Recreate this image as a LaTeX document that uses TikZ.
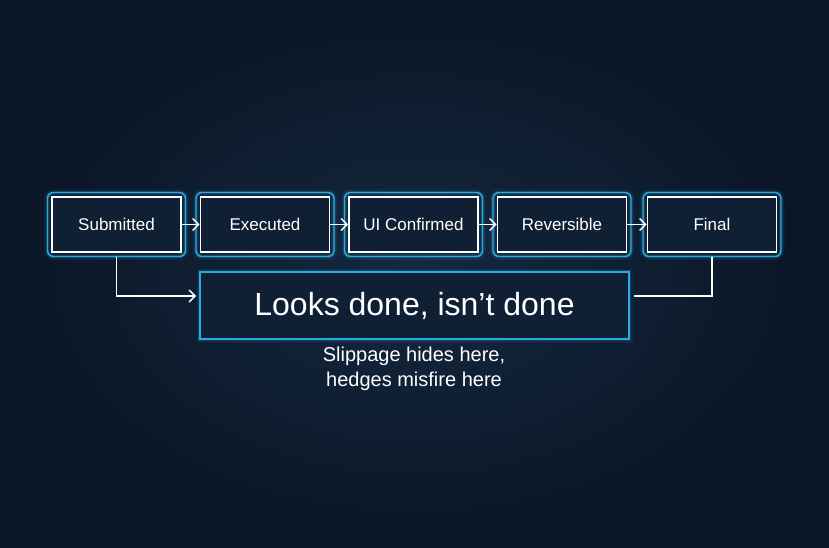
\documentclass[tikz,border=0pt]{standalone}
\usepackage{fontspec}
\setmainfont{Liberation Sans}
\usetikzlibrary{arrows.meta}
\definecolor{bgout}{HTML}{0A1526}
\definecolor{bgin}{HTML}{15293F}
\definecolor{glowc}{HTML}{2AA9E0}
\definecolor{boxfill}{HTML}{0F2034}
\begin{document}
\begin{tikzpicture}[x=1pt,y=-1pt,
  stepbox/.style={draw=white, line width=1.6pt, fill=boxfill, minimum width=129pt, minimum height=55pt, inner sep=0pt, text=white, font=\fontsize{17}{20}\selectfont},
  bigbox/.style={draw=glowc, line width=1.6pt, fill=boxfill, minimum width=429pt, minimum height=67pt, inner sep=0pt, text=white, font=\fontsize{32}{36}\selectfont},
  subtext/.style={text=white, align=center, font=\fontsize{20}{25}\selectfont},
  glowa/.style={draw=glowc, line width=7pt, opacity=0.07},
  glowb/.style={draw=glowc, line width=3.5pt, opacity=0.18},
  glowline/.style={draw=glowc, line width=1.4pt},
  conn/.style={draw=white, line width=1.4pt},
  tip/.style={-{Straight Barb[length=6pt,width=12pt,line width=1.4pt]}}
]
\shade[inner color=bgin, outer color=bgout] (0,0) rectangle (829,547);
\useasboundingbox (0,0) rectangle (829,547);

% outer glow frames (drawn first)
\foreach \cx in {116.5,265,413.5,562,712}{
  \draw[glowa, rounded corners=6pt] (\cx-69,192.5) rectangle (\cx+69,256.5);
  \draw[glowb, rounded corners=6pt] (\cx-69,192.5) rectangle (\cx+69,256.5);
  \draw[glowline, rounded corners=6pt] (\cx-69,192.5) rectangle (\cx+69,256.5);
}
\draw[glowa] (200,272) rectangle (629,339);
\draw[glowb] (200,272) rectangle (629,339);

\node[stepbox] (s1) at (116.5,224.5) {Submitted};
\node[stepbox] (s2) at (265,224.5) {Executed};
\node[stepbox] (s3) at (413.5,224.5) {UI Confirmed};
\node[stepbox] (s4) at (562,224.5) {Reversible};
\node[stepbox] (s5) at (712,224.5) {Final};

\node[bigbox] (big) at (414.5,305.5) {Looks done, isn’t done};
\node[subtext] (sub) at (414,369) {Slippage hides here,\\hedges misfire here};

\draw[conn,tip] (s1.east) -- (s2.west);
\draw[conn,tip] (s2.east) -- (s3.west);
\draw[conn,tip] (s3.east) -- (s4.west);
\draw[conn,tip] (s4.east) -- (s5.west);

\coordinate (l1) at ([yshift=-4.5pt]s1.south);
\coordinate (l2) at ([xshift=-3pt,yshift=9.5pt]big.west);
\draw[conn,tip] (l1) |- (l2);
\coordinate (r1) at ([yshift=-4.5pt]s5.south);
\coordinate (r2) at ([xshift=4pt,yshift=9.5pt]big.east);
\draw[conn] (r1) |- (r2);
\end{tikzpicture}
\end{document}
